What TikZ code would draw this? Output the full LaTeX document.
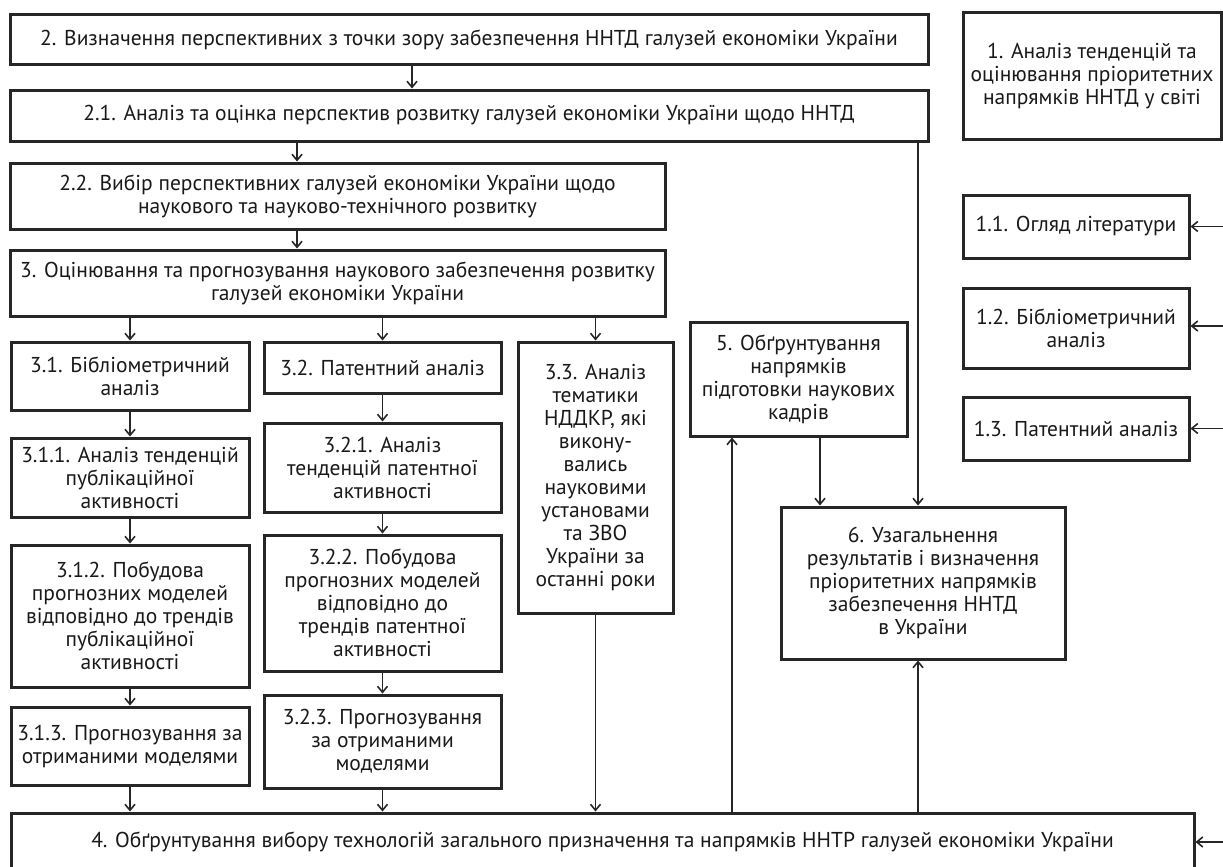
\documentclass[tikz,border=0pt]{standalone}
\usepackage{fontspec}
\setmainfont{PT Sans}
\usepackage{tikz}
\usetikzlibrary{positioning, arrows.meta}
\tikzset{
	blok/.style={draw=black!85, line width=3pt, align=center, inner sep=0pt, text=black!90, font=\fontsize{21.5}{23}\selectfont},
	strilka/.style={-{Straight Barb[length=6pt,width=10pt,line width=1.6pt]}, line width=1.8pt, draw=black!85}
}

\begin{document}
\begin{tikzpicture}[x=1pt, y=-1pt]
		\useasboundingbox (0,0) rectangle (1223,867);
		\node[blok, minimum width=918pt, minimum height=50pt] (b2) at (469,40) {2. Визначення перспективних з точки зору забезпечення ННТД галузей економіки України};
		\node[blok, minimum width=918pt, minimum height=51pt] (b21) at (469,115.5) {2.1. Аналіз та оцінка перспектив розвитку галузей економіки України щодо ННТД};
		\node[blok, minimum width=655pt, minimum height=66pt] (b22) at (337.5,196) {2.2. Вибір перспективних галузей економіки України щодо\\наукового та науково-технічного розвитку};
		\node[blok, minimum width=655pt, minimum height=66pt] (b3) at (337.5,283) {3. Оцінювання та прогнозування наукового забезпечення розвитку\\галузей економіки України};
		\node[blok, minimum width=238pt, minimum height=68pt] (b31) at (130,376) {3.1. Бібліометричний\\аналіз};
		\node[blok, minimum width=238pt, minimum height=79pt] (b311) at (130,477.5) {3.1.1. Аналіз тенденцій\\публікаційної\\активності};
		\node[blok, minimum width=238pt, minimum height=142pt] (b312) at (130,616) {3.1.2. Побудова\\прогнозних моделей\\відповідно до трендів\\публікаційної\\активності};
		\node[blok, minimum width=238pt, minimum height=78pt] (b313) at (130,746) {3.1.3. Прогнозування за\\отриманими моделями};
		\node[blok, minimum width=237pt, minimum height=51pt] (b32) at (382.5,367.5) {3.2. Патентний аналіз};
		\node[blok, minimum width=237pt, minimum height=89pt] (b321) at (382.5,467.5) {3.2.1. Аналіз\\тенденцій патентної\\активності};
		\node[blok, minimum width=237pt, minimum height=136pt] (b322) at (382.5,603) {3.2.2. Побудова\\прогнозних моделей\\відповідно до\\трендів патентної\\активності};
		\node[blok, minimum width=237pt, minimum height=93pt] (b323) at (382.5,741.5) {3.2.3. Прогнозування\\за отриманими\\моделями};
		\node[blok, minimum width=155pt, minimum height=271pt] (b33) at (595.5,477.5) {3.3. Аналіз\\тематики\\НДДКР, які\\викону-\\вались\\науковими\\установами\\та ЗВО\\України за\\останні роки};
		\node[blok, minimum width=217pt, minimum height=114pt] (b5) at (798.5,379) {5. Обґрунтування\\напрямків\\підготовки наукових\\кадрів};
		\node[blok, minimum width=284pt, minimum height=152pt] (b6) at (923,583) {6. Узагальнення\\результатів і визначення\\пріоритетних напрямків\\забезпечення ННТД\\в України};
		\node[blok, minimum width=1183pt, minimum height=57pt] (b4) at (602.5,841.5) {4. Обґрунтування вибору технологій загального призначення та напрямків ННТР галузей економіки України};
		\node[blok, minimum width=258pt, minimum height=126pt] (b1) at (1092,76) {1. Аналіз тенденцій та\\оцінювання пріоритетних\\напрямків ННТД у світі};
		\node[blok, minimum width=226pt, minimum height=63pt] (b11) at (1076,226.5) {1.1. Огляд літератури};
		\node[blok, minimum width=226pt, minimum height=80pt] (b12) at (1076,328) {1.2. Бібліометричний\\аналіз};
		\node[blok, minimum width=226pt, minimum height=63pt] (b13) at (1076,428.5) {1.3. Патентний аналіз};
		\coordinate (r11) at (1223,226.5);
		\coordinate (r12) at (1223,326);
		\coordinate (r13) at (1223,428.5);
		\coordinate (r4) at (1223,842);
		\draw[strilka] (412,0 |- b2.south) -- (412,0 |- b21.north);
		\draw[strilka] (297,0 |- b21.south) -- (297,0 |- b22.north);
		\draw[strilka] (297,0 |- b22.south) -- (297,0 |- b3.north);
		\draw[strilka] (b31.north |- b3.south) -- (b31.north);
		\draw[strilka] (b32.north |- b3.south) -- (b32.north);
		\draw[strilka] (b33.north |- b3.south) -- (b33.north);
		\draw[strilka] (b31) -- (b311);
		\draw[strilka] (b311) -- (b312);
		\draw[strilka] (b312) -- (b313);
		\draw[strilka] (b313.south) -- (b313.south |- b4.north);
		\draw[strilka] (b32) -- (b321);
		\draw[strilka] (b321) -- (b322);
		\draw[strilka] (b322) -- (b323);
		\draw[strilka] (b323.south) -- (b323.south |- b4.north);
		\draw[strilka] (b33.south) -- (b33.south |- b4.north);
		\draw[strilka] (732,0 |- b4.north) -- (732,0 |- b5.south);
		\draw[strilka] (820,0 |- b5.south) -- (820,0 |- b6.north);
		\draw[strilka] (918,0 |- b21.south) -- (918,0 |- b6.north);
		\draw[strilka] (918,0 |- b4.north) -- (918,0 |- b6.south);
		\draw[strilka] (r11) -- (b11.east);
		\draw[strilka] (r12) -- (b12.east |- r12);
		\draw[strilka] (r13) -- (b13.east);
		\draw[strilka] (r4) -- (b4.east |- r4);
		\end{tikzpicture}
\end{document}
